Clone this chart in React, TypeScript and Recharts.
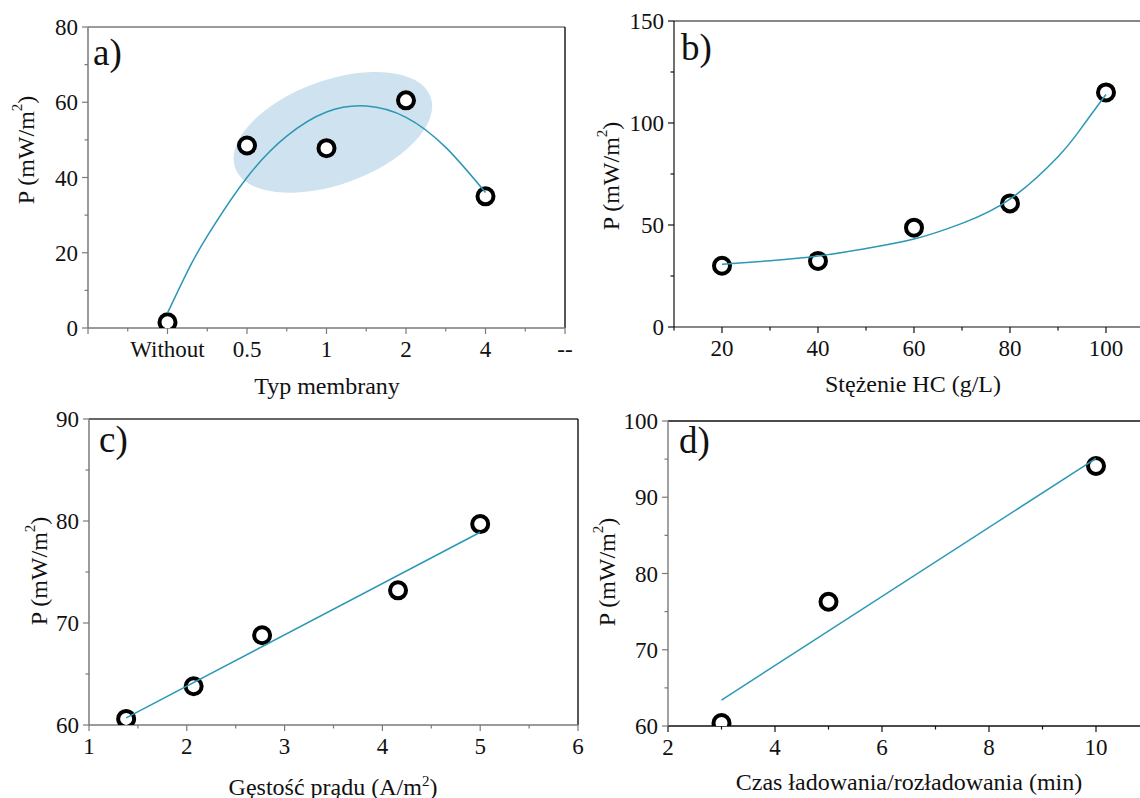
import { ComposedChart, XAxis, YAxis, Scatter, Line, ReferenceLine } from "recharts";

// panel a) - membrane type
const membraneLabels = ["Without", "0.5", "1", "2", "4", "--"];
const membranePower = [1.5, 48.5, 47.8, 60.5, 35];
const membraneFitX = [1, 1.25, 1.5, 2, 2.5, 3, 3.5, 4, 4.5, 5];
const membraneFitP = [4, 15, 24.4, 40, 51, 57.4, 59, 56, 48, 36];

// panel b) - HC concentration
const hcConc = [20, 40, 60, 80, 100];
const hcPower = [30, 32.4, 48.7, 60.6, 115];
const hcFitConc = [20, 30, 40, 50, 60, 70, 80, 90, 95, 100];
const hcFitPower = [30.7, 32.5, 34.8, 38.5, 43.1, 50.8, 62.7, 83.5, 98, 114];

// panel c) - current density
const currentDensity = [1.38, 2.07, 2.77, 4.16, 5.0];
const currentPower = [60.6, 63.8, 68.8, 73.2, 79.7];
const currentFitX = [1.38, 5.0];
const currentFitP = [60.7, 78.9];

// panel d) - charge/discharge time
const cycleTime = [3, 5, 10];
const cyclePower = [60.4, 76.3, 94.1];
const cycleFitX = [3, 10];
const cycleFitP = [63.4, 95.1];

const FONT = '"Liberation Serif", "Times New Roman", serif';
const TEAL = "#2b98b5";
const GRAY = "#7a7a7a";
const DARK = "#111";

type Pt = { x: number; y: number };
const zip = (xs: number[], ys: number[]): Pt[] => xs.map((x, i) => ({ x, y: ys[i] }));
const steps = (a: number, b: number, s: number) => {
  const out: number[] = [];
  for (let v = a; v <= b + 1e-9; v += s) out.push(Math.round(v * 1000) / 1000);
  return out;
};

type PanelProps = {
  id: string;
  left: number;
  top: number;
  width: number;
  height: number;
  plot: { l: number; t: number; r: number; b: number };
  xDomain: [number, number];
  yDomain: [number, number];
  xStep: number;
  yStep: number;
  xMajor: (v: number) => boolean;
  yMajor: (v: number) => boolean;
  xLabel: (v: number) => string | null;
  points: Pt[];
  fit: Pt[];
  curve: "natural" | "linear";
  tag: { text: string; x: number; y: number };
  xTitle: { x: number; y: number; content: any };
  yTitle: { x: number; y: number };
  rightBorder?: boolean;
  clipMarkers?: boolean;
  leftColor: string;
  bottomColor: string;
  topColor: string;
  axisWidth: number;
  highlight?: Pt;
};

function Panel(p: PanelProps) {
  const XTick = ({ x, y, payload }: any) => {
    const v = payload.value;
    const major = p.xMajor(v);
    const label = major ? p.xLabel(v) : null;
    return (
      <g>
        <line x1={x} x2={x} y1={y} y2={y + (major ? 6 : 3.5)} stroke={p.bottomColor} strokeWidth={1.2} />
        {label !== null && (
          <text
            x={x}
            y={y + 29}
            textAnchor="middle"
            fontSize={23}
            fontFamily={FONT}
            style={{ fontFamily: FONT }}
            fill="#111"
          >
            {label}
          </text>
        )}
      </g>
    );
  };

  const YTick = ({ x, y, payload }: any) => {
    const v = payload.value;
    const major = p.yMajor(v);
    return (
      <g>
        <line x1={x} x2={x - (major ? 6 : 3.5)} y1={y} y2={y} stroke={p.leftColor} strokeWidth={1.2} />
        {major && (
          <text
            x={x - 10}
            y={y}
            dy="0.35em"
            textAnchor="end"
            fontSize={23}
            fontFamily={FONT}
            style={{ fontFamily: FONT }}
            fill="#111"
          >
            {v}
          </text>
        )}
      </g>
    );
  };

  const clipId = `clip-${p.id}`;

  return (
    <div style={{ position: "absolute", left: p.left, top: p.top }}>
      <ComposedChart
        width={p.width}
        height={p.height}
        margin={{ top: p.plot.t, right: p.width - p.plot.r, left: 0, bottom: 0 }}
        style={{ fontFamily: FONT }}
      >
        <defs>
          <clipPath id={clipId}>
            <rect x={p.plot.l} y={p.plot.t} width={p.plot.r - p.plot.l} height={p.plot.b - p.plot.t} />
          </clipPath>
        </defs>
        <XAxis
          type="number"
          dataKey="x"
          domain={p.xDomain}
          ticks={steps(p.xDomain[0], p.xDomain[1], p.xStep)}
          interval={0}
          allowDataOverflow
          height={p.height - p.plot.b}
          tickSize={0}
          tickMargin={0}
          tickLine={false}
          axisLine={{ stroke: p.bottomColor, strokeWidth: p.axisWidth }}
          tick={<XTick />}
        />
        <YAxis
          type="number"
          dataKey="y"
          domain={p.yDomain}
          ticks={steps(p.yDomain[0], p.yDomain[1], p.yStep)}
          interval={0}
          allowDataOverflow
          width={p.plot.l}
          tickSize={0}
          tickMargin={0}
          tickLine={false}
          axisLine={{ stroke: p.leftColor, strokeWidth: p.axisWidth }}
          tick={<YTick />}
        />
        <ReferenceLine y={p.yDomain[1]} stroke={p.topColor} strokeWidth={p.axisWidth} />
        {p.rightBorder && <ReferenceLine x={p.xDomain[1]} stroke={DARK} strokeWidth={1.4} />}
        {p.highlight && (
          <Scatter
            data={[p.highlight]}
            isAnimationActive={false}
            zIndex={50}
            shape={(s: any) => (
              <ellipse
                cx={s.cx}
                cy={s.cy}
                rx={104}
                ry={52}
                transform={`rotate(-20 ${s.cx} ${s.cy})`}
                fill="#1f77b4"
                fillOpacity={0.215}
              />
            )}
          />
        )}
        <Scatter
          data={p.points}
          isAnimationActive={false}
          shape={(s: any) => (
            <circle
              cx={s.cx}
              cy={s.cy}
              r={8}
              fill="#fff"
              stroke="#000"
              strokeWidth={4}
              clipPath={p.clipMarkers ? `url(#${clipId})` : undefined}
            />
          )}
        />
        <Line
          data={p.fit}
          dataKey="y"
          type={p.curve}
          stroke={TEAL}
          strokeWidth={1.5}
          dot={false}
          activeDot={false}
          zIndex={900}
          isAnimationActive={false}
        />
        <text x={p.tag.x} y={p.tag.y} fontSize={37} fontFamily={FONT} fill="#111">
          {p.tag.text}
        </text>
        <text
          x={p.xTitle.x}
          y={p.xTitle.y}
          textAnchor="middle"
          fontSize={24}
          fontFamily={FONT}
          fill="#111"
        >
          {p.xTitle.content}
        </text>
        <text
          x={p.yTitle.x}
          y={p.yTitle.y}
          transform={`rotate(-90 ${p.yTitle.x} ${p.yTitle.y})`}
          textAnchor="middle"
          dominantBaseline="central"
          fontSize={24}
          fontFamily={FONT}
          fill="#111"
        >
          P (mW/m<tspan dy={-9} fontSize={15}>2</tspan>
          <tspan dy={9}>)</tspan>
        </text>
      </ComposedChart>
    </div>
  );
}

export default function App() {
  return (
    <div
      style={{
        position: "absolute",
        left: 0,
        top: 0,
        width: 1140,
        height: 798,
        overflow: "hidden",
        background: "#fff",
      }}
    >
      <Panel
        id="a"
        left={0}
        top={0}
        width={585}
        height={400}
        plot={{ l: 88, t: 27, r: 565, b: 328 }}
        xDomain={[0, 6]}
        yDomain={[0, 80]}
        xStep={0.5}
        yStep={10}
        xMajor={(v) => Number.isInteger(v)}
        yMajor={(v) => v % 20 === 0}
        xLabel={(v) => (v >= 1 ? membraneLabels[v - 1] : null)}
        points={membranePower.map((y, i) => ({ x: i + 1, y }))}
        fit={zip(membraneFitX, membraneFitP)}
        curve="natural"
        tag={{ text: "a)", x: 93, y: 65 }}
        xTitle={{ x: 327, y: 394, content: "Typ membrany" }}
        yTitle={{ x: 26, y: 150 }}
        rightBorder
        leftColor={GRAY}
        bottomColor={GRAY}
        topColor={GRAY}
        axisWidth={1.5}
        highlight={{ x: 3.08, y: 52 }}
      />
      <Panel
        id="b"
        left={570}
        top={0}
        width={600}
        height={400}
        plot={{ l: 104, t: 21, r: 584, b: 327 }}
        xDomain={[10, 110]}
        yDomain={[0, 150]}
        xStep={10}
        yStep={25}
        xMajor={(v) => v % 20 === 0}
        yMajor={(v) => v % 50 === 0}
        xLabel={(v) => String(v)}
        points={zip(hcConc, hcPower)}
        fit={zip(hcFitConc, hcFitPower)}
        curve="natural"
        tag={{ text: "b)", x: 111, y: 60 }}
        xTitle={{ x: 343, y: 392, content: "Stężenie HC (g/L)" }}
        yTitle={{ x: 41, y: 176 }}
        leftColor={DARK}
        bottomColor={DARK}
        topColor={DARK}
        axisWidth={1.2}
      />
      <Panel
        id="c"
        left={0}
        top={400}
        width={600}
        height={398}
        plot={{ l: 89, t: 19, r: 578, b: 325 }}
        xDomain={[1, 6]}
        yDomain={[60, 90]}
        xStep={0.5}
        yStep={5}
        xMajor={(v) => Number.isInteger(v)}
        yMajor={(v) => v % 10 === 0}
        xLabel={(v) => String(v)}
        points={zip(currentDensity, currentPower)}
        fit={zip(currentFitX, currentFitP)}
        curve="linear"
        tag={{ text: "c)", x: 99, y: 52 }}
        xTitle={{
          x: 333,
          y: 395,
          content: (
            <>
              Gęstość prądu (A/m<tspan dy={-9} fontSize={15}>2</tspan>
              <tspan dy={9}>)</tspan>
            </>
          ),
        }}
        yTitle={{ x: 39, y: 171 }}
        rightBorder
        clipMarkers
        leftColor={GRAY}
        bottomColor={GRAY}
        topColor="#333"
        axisWidth={1.5}
      />
      <Panel
        id="d"
        left={580}
        top={400}
        width={620}
        height={398}
        plot={{ l: 88, t: 21, r: 569.5, b: 326 }}
        xDomain={[2, 11]}
        yDomain={[60, 100]}
        xStep={1}
        yStep={5}
        xMajor={(v) => v % 2 === 0}
        yMajor={(v) => v % 10 === 0}
        xLabel={(v) => String(v)}
        points={zip(cycleTime, cyclePower)}
        fit={zip(cycleFitX, cycleFitP)}
        curve="linear"
        tag={{ text: "d)", x: 99, y: 53 }}
        xTitle={{ x: 329, y: 390, content: "Czas ładowania/rozładowania (min)" }}
        yTitle={{ x: 27, y: 172 }}
        clipMarkers
        leftColor={GRAY}
        bottomColor={DARK}
        topColor={DARK}
        axisWidth={1.4}
      />
    </div>
  );
}
